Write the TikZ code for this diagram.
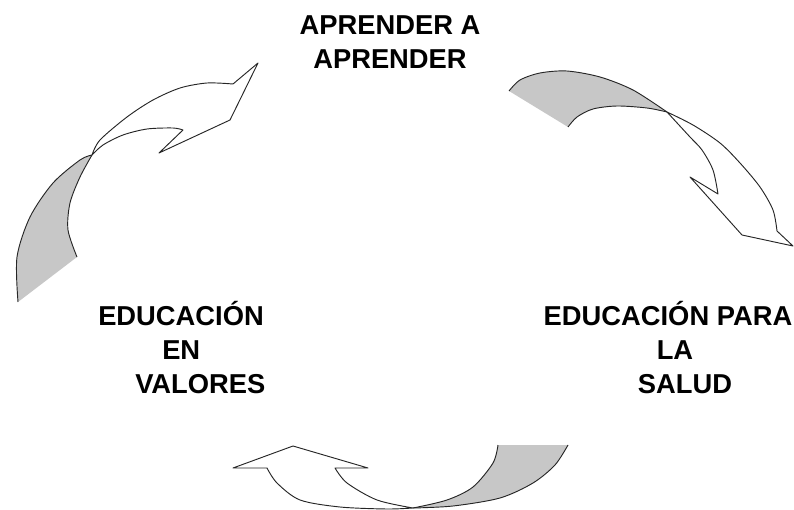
\documentclass[tikz,border=0pt]{standalone}
\usepackage{fontspec}
\setmainfont{Liberation Sans}
\usepackage{tikz}

\begin{document}
\begin{tikzpicture}[
            x = 0.75pt, y = -0.75pt, % one unit is one pixel, y goes down
            label/.style = {font=\bfseries\fontsize{20.5}{25.5}\selectfont, inner sep=0pt},
            arrowline/.style = {draw=black!85, line width=0.7pt, line join=round}, % arrow outline
            backside/.style = {fill=black!22} % grey back of a twisted arrow
        ]
\useasboundingbox (0,0) rectangle (794,510);

% base anchor sits on the last line
\node[label, align=center, anchor=base] (learn) at (390,69) {APRENDER A\\APRENDER};
\node[label, align=left, anchor=base west] (values) at (98,393) {EDUCACIÓN\\\hspace*{48pt}EN\\\hspace*{27.75pt}VALORES};
\node[label, align=center, anchor=base] (health) at (668,393) {EDUCACIÓN PARA\\\hspace*{10.5pt}LA\\\hspace*{25.5pt}SALUD};

% twist points of the three arrows
\coordinate (twistL) at (92,155);
\coordinate (twistR) at (667,112);
\coordinate (twistB) at (413,508);

% left arrow, up towards the top label
\fill[backside] plot[smooth] coordinates {(18,302) (17,257) (30,217) (53,183) (80,160) (twistL)}
   -- plot[smooth] coordinates {(twistL) (80,177) (70,203) (68,230) (77,257)} -- cycle;
\draw[arrowline] plot[smooth] coordinates {(18,302) (17,257) (30,217) (53,183) (80,160) (twistL)};
\draw[arrowline] plot[smooth] coordinates {(twistL) (80,177) (70,203) (68,230) (77,257)};
\draw[arrowline, fill=white] plot[smooth] coordinates {(twistL) (100,140) (127,117) (153,100) (180,88) (207,83) (233,84)}
   -- (258,63) -- (230,120) -- (159,153) -- (183,130)
   -- plot[smooth] coordinates {(183,130) (173,128) (147,129) (123,135) (103,145) (twistL)} -- cycle;

% right arrow, down towards the right label
\fill[backside] plot[smooth] coordinates {(509,91) (520,80) (540,73) (567,71) (600,77) (633,90) (twistR)}
   -- plot[smooth] coordinates {(twistR) (647,108) (617,106) (593,109) (577,117) (568,127)} -- cycle;
\draw[arrowline] plot[smooth] coordinates {(509,91) (520,80) (540,73) (567,71) (600,77) (633,90) (twistR)};
\draw[arrowline] plot[smooth] coordinates {(twistR) (647,108) (617,106) (593,109) (577,117) (568,127)};
\draw[arrowline, fill=white] plot[smooth] coordinates {(twistR) (693,125) (720,143) (740,163) (760,187) (773,210) (777,231)}
   -- (793,246) -- (742,235) -- (690,177) -- (718,194)
   -- plot[smooth] coordinates {(718,194) (713,170) (702,150) (690,137) (twistR)} -- cycle;

% bottom arrow, left towards the left label
\fill[backside] plot[smooth] coordinates {(twistB) (453,506) (500,498) (533,483) (555,465) (568,445)}
   -- plot[smooth] coordinates {(498,445) (493,463) (473,487) (447,500) (twistB)} -- cycle;
\draw[arrowline] plot[smooth] coordinates {(twistB) (453,506) (500,498) (533,483) (555,465) (568,445)};
\draw[arrowline] plot[smooth] coordinates {(498,445) (493,463) (473,487) (447,500) (twistB)};
\draw[arrowline, fill=white] plot[smooth] coordinates {(twistB) (387,509) (340,507) (300,500) (277,483) (267,468)}
   -- (233,468) -- (293,446) -- (368,468) -- (335,468)
   -- plot[smooth] coordinates {(335,468) (347,483) (377,500) (twistB)} -- cycle;
\end{tikzpicture}
\end{document}
